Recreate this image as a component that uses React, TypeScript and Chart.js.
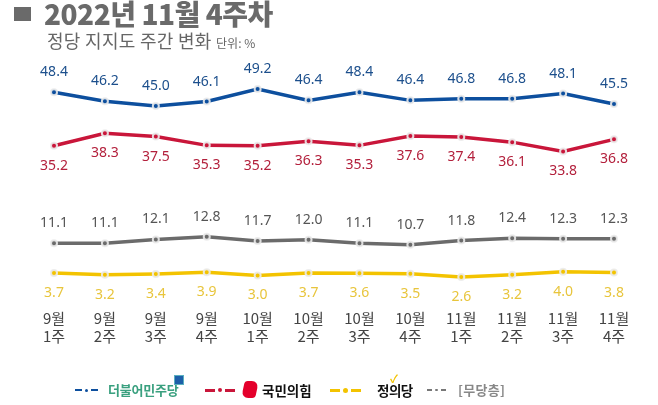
import React, { useEffect, useRef } from 'react';
import { Chart, registerables } from 'chart.js';
Chart.register(...registerables);

const categories = [
  ['9월', '1주'], ['9월', '2주'], ['9월', '3주'], ['9월', '4주'],
  ['10월', '1주'], ['10월', '2주'], ['10월', '3주'], ['10월', '4주'],
  ['11월', '1주'], ['11월', '2주'], ['11월', '3주'], ['11월', '4주'],
];
const minjoo = [48.4, 46.2, 45.0, 46.1, 49.2, 46.4, 48.4, 46.4, 46.8, 46.8, 48.1, 45.5];
const ppp = [35.2, 38.3, 37.5, 35.3, 35.2, 36.3, 35.3, 37.6, 37.4, 36.1, 33.8, 36.8];
const independents = [11.1, 11.1, 12.1, 12.8, 11.7, 12.0, 11.1, 10.7, 11.8, 12.4, 12.3, 12.3];
const justice = [3.7, 3.2, 3.4, 3.9, 3.0, 3.7, 3.6, 3.5, 2.6, 3.2, 4.0, 3.8];

const BLUE = '#0d4f9e';
const RED = '#c9163a';
const GRAY = '#6b6b6b';
const YELLOW = '#f3c300';

const labelPlugin = {
  id: 'valueLabels',
  afterDatasetsDraw(chart: any) {
    const ctx = chart.ctx;
    chart.data.datasets.forEach((ds: any, i: number) => {
      const meta = chart.getDatasetMeta(i);
      ctx.save();
      ctx.font = '14px "Noto Sans", sans-serif';
      ctx.fillStyle = ds.labelColor;
      ctx.textAlign = 'center';
      ctx.textBaseline = 'middle';
      meta.data.forEach((pt: any, j: number) => {
        const off = ds.labelPos === 'above' ? -20 : 20;
        ctx.fillText(ds.data[j].toFixed(1), pt.x, pt.y + off);
      });
      ctx.restore();
    });
  },
};

function DashDot({ color, left, w, h, dot }: { color: string; left: number; w: number; h: number; dot: number }) {
  return (
    <span style={{ position: 'absolute', left, top: 0, height: 24, display: 'flex', alignItems: 'center', gap: 3 }}>
      <span style={{ display: 'inline-block', width: w, height: h, background: color }} />
      <span style={{ display: 'inline-block', width: dot, height: dot, borderRadius: '50%', background: color }} />
      <span style={{ display: 'inline-block', width: w, height: h, background: color }} />
    </span>
  );
}

export default function App() {
  const ref = useRef<HTMLCanvasElement>(null);
  useEffect(() => {
    const mk = (label: string, data: number[], color: string, axis: string, pos: string, lc: string) => ({
      label, data, borderColor: color, backgroundColor: color, yAxisID: axis,
      borderWidth: 3.5, pointRadius: 3, pointBorderWidth: 2, pointBorderColor: 'rgba(235,235,235,0.9)',
      pointBackgroundColor: color, tension: 0, labelPos: pos, labelColor: lc,
    });
    const chart = new Chart(ref.current!, {
      type: 'line',
      data: {
        labels: categories,
        datasets: [
          mk('더불어민주당', minjoo, BLUE, 'yB', 'above', '#1c4f8c'),
          mk('국민의힘', ppp, RED, 'yR', 'below', '#b3203c'),
          mk('무당층', independents, GRAY, 'yG', 'above', '#555555'),
          mk('정의당', justice, YELLOW, 'yY', 'below', '#e8c53c'),
        ] as any,
      },
      options: {
        animation: false,
        responsive: true,
        maintainAspectRatio: false,
        layout: { padding: { top: 60, bottom: 52, left: 54, right: 44 } },
        plugins: { legend: { display: false }, tooltip: { enabled: false }, title: { display: false } },
        scales: {
          x: {
            offset: false,
            grid: { display: false, drawTicks: false },
            border: { display: false },
            ticks: { color: '#444', font: { size: 15, family: '"Noto Sans CJK KR", sans-serif' }, padding: 8, maxRotation: 0, autoSkip: false },
          },
          yB: { display: false, min: -3.55, max: -3.55 + 240 / 4.0 },
          yR: { display: false, min: -3.45, max: -3.45 + 240 / 4.0 },
          yG: { display: false, min: -4.04, max: -4.04 + 240 / 3.8 },
          yY: { display: false, min: -4.06, max: -4.06 + 240 / 3.6 },
        },
      } as any,
      plugins: [labelPlugin],
    });
    return () => chart.destroy();
  }, []);

  const font = '"Noto Sans CJK KR", sans-serif';
  return (
    <div style={{ position: 'fixed', left: 0, top: 0, width: 658, height: 405, background: '#fff', fontFamily: font, overflow: 'hidden' }}>
      <canvas ref={ref} style={{ position: 'absolute', left: 0, top: 0, width: 658, height: 405 }} />
      <div style={{ position: 'absolute', left: 14, top: 7, width: 17, height: 14, background: '#6a6a6a' }} />
      <div style={{ position: 'absolute', left: 44, top: -7, fontSize: 28, fontWeight: 900, color: '#6a6a6a', whiteSpace: 'nowrap', letterSpacing: -0.5 }}>
        2022년 11월 4주차
      </div>
      <div style={{ position: 'absolute', left: 47, top: 27, fontSize: 18, color: '#666', whiteSpace: 'nowrap', letterSpacing: 0.3 }}>
        정당 지지도 주간 변화 <span style={{ fontSize: 12, letterSpacing: 0 }}>단위: %</span>
      </div>
      <div style={{ position: 'absolute', left: 0, top: 378, width: 658, height: 24, whiteSpace: 'nowrap', fontSize: 13, fontWeight: 700 }}>
        <DashDot color={BLUE} left={75} w={7} h={2.5} dot={3} />
        <span style={{ position: 'absolute', left: 108, top: 2, color: '#3aa07f', letterSpacing: -0.2 }}>더불어민주당</span>
        <span style={{ position: 'absolute', left: 174, top: -3, width: 8, height: 8, background: '#1d5fa8', border: '1px solid #5ab0c0' }} />
        <DashDot color={RED} left={205} w={10} h={3} dot={4} />
        <span style={{ position: 'absolute', left: 243, top: 3, width: 14, height: 17, background: '#e4002b', borderRadius: '3px 7px 3px 7px', transform: 'skewX(-12deg)' }} />
        <span style={{ position: 'absolute', left: 262, top: 2, color: '#111', fontSize: 13.5 }}>국민의힘</span>
        <DashDot color={YELLOW} left={330} w={10} h={3} dot={5} />
        <span style={{ position: 'absolute', left: 377, top: 2, color: '#111', fontSize: 13.5, letterSpacing: -0.5 }}>정의당</span>
        <span style={{ position: 'absolute', left: 390, top: -8, color: '#f3c300', fontSize: 11 }}>✓</span>
        <DashDot color={'#777'} left={427} w={5} h={2} dot={2.5} />
        <span style={{ position: 'absolute', left: 458, top: 2, color: '#888', letterSpacing: 0.3 }}>[무당층]</span>
      </div>
    </div>
  );
}
